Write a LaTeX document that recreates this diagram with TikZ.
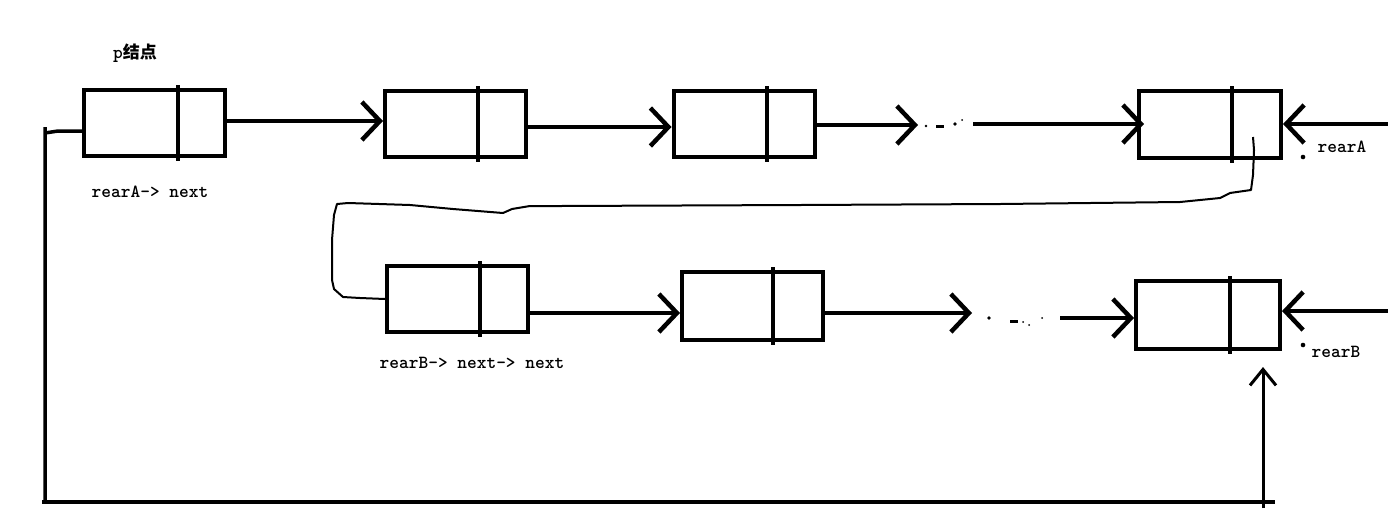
\documentclass[tikz,border=0pt]{standalone}
\usepackage{fontspec}
\newfontfamily\cjk{Noto Sans CJK SC}
\usetikzlibrary{arrows.meta}
\tikzset{
  cell/.style={draw, line width=4pt, minimum width=141pt, minimum height=66pt, inner sep=0pt},
  divider/.style={line width=4pt, shorten <=-3pt, shorten >=-3pt},
  arr/.style={line width=4pt, -{Straight Barb[length=18pt, width=38pt, line width=4.5pt]}},
  thinline/.style={line width=2pt, line join=round},
  loopline/.style={line width=3.5pt},
  uparr/.style={line width=3pt, -{Straight Barb[length=16pt, width=26pt, line width=3pt]}},
  lbl/.style={inner sep=0pt, font=\ttfamily\bfseries\fontsize{18.5}{20}\selectfont},
  speck/.style={fill=black}
}
\begin{document}
\begin{tikzpicture}[x=1pt, y=-1pt]
\useasboundingbox (0,0) rectangle (1388,523);
% nodes (boxes)
\node[cell] (b1) at (154.5,123) {};
\node[cell] (b2) at (455.5,124) {};
\node[cell] (b3) at (744,124) {};
\node[cell, minimum width=142pt, minimum height=67pt] (b4) at (1210,124.5) {};
\node[cell] (b5) at (457.5,299) {};
\node[cell, minimum height=68pt] (b6) at (752.5,306) {};
\node[cell, minimum width=144pt, minimum height=68pt] (b7) at (1208,315) {};
% dividers
\draw[divider] (b1.north -| 178,0) -- (b1.south -| 178,0);
\draw[divider] (b2.north -| 478,0) -- (b2.south -| 478,0);
\draw[divider] (b3.north -| 767,0) -- (b3.south -| 767,0);
\draw[divider] (b4.north -| 1232,0) -- (b4.south -| 1232,0);
\draw[divider] (b5.north -| 480,0) -- (b5.south -| 480,0);
\draw[divider] (b6.north -| 773,0) -- (b6.south -| 773,0);
\draw[divider] (b7.north -| 1230,0) -- (b7.south -| 1230,0);
% labels
\node[lbl] (tp) at (135,53) {p{\cjk\fontsize{17}{18}\selectfont 结点}};
\node[lbl] (tA) at (150,192) {rearA-> next};
\node[lbl] (tB) at (472,363) {rearB-> next-> next};
\node[lbl] (tra) at (1342,147) {rearA};
\node[lbl] (trb) at (1336,352) {rearB};
% free ends and levels
\coordinate (e1) at (918,125);
\coordinate (s1) at (973,124);
\coordinate (e2) at (972,313);
\coordinate (s2) at (1060,318);
\coordinate (inA) at (1388,124);
\coordinate (inB) at (1388,311);
\coordinate (y1) at (0,121);
\coordinate (y2) at (0,127);
\coordinate (y3) at (0,313);
% arrows top row
\draw[arr] (b1.east |- y1) -- (b2.west |- y1);
\draw[arr] (b2.east |- y2) -- (b3.west |- y2);
\draw[arr] (b3.east |- e1) -- (e1);
\draw[arr] (s1) -- ([xshift=7pt]b4.west |- s1);
\draw[arr] (inA) -- (b4.east |- inA);
% arrows bottom row
\draw[arr] (b5.east |- y3) -- (b6.west |- y3);
\draw[arr] (b6.east |- e2) -- (e2);
\draw[arr] (s2) -- (b7.west |- s2);
\draw[arr] (inB) -- (b7.east |- inB);
% ellipsis specks
\fill[speck] (926,126) circle (1.3pt);
\fill[speck] (936,125) rectangle (944,127.5);
\fill[speck] (955,124) circle (1.8pt);
\fill[speck] (962,120) circle (1pt);
\fill[speck] (989,318) circle (1.8pt);
\fill[speck] (1010,320) rectangle (1018,323);
\fill[speck] (1023,322) circle (1pt);
\fill[speck] (1029,325) circle (1pt);
\fill[speck] (1042,318) circle (1pt);
% pointer dots
\fill (1303,157) circle (2.3pt);
\fill (1303,345) circle (2.3pt);
% hand-drawn link from b4 to b5
\draw[thinline] (1253,137) -- (1254,150) -- (1253,175) -- (1251,190) -- (1230,193) -- (1220,198) -- (1180,202)
  -- (1000,204) -- (800,205) -- (560,206) -- (530,206) -- (512,209) -- (503,213) -- (453,209) -- (410,205)
  -- (348,203) -- (337,204) -- (334,215) -- (332,240) -- (332,280) -- (334,289) -- (343,297) -- (360,298) -- (b5.west);
% loop from b1 round to b7
\draw[loopline] ([yshift=-8pt]b1.west) -- (58,131) -- (45,133) -- (45,127) -- (45,500);
\draw[loopline] (42,502) -- (1275,502);
\draw[uparr] (1263,508) -- ([yshift=-16pt]b7.south -| 1263,0);
\end{tikzpicture}
\end{document}
